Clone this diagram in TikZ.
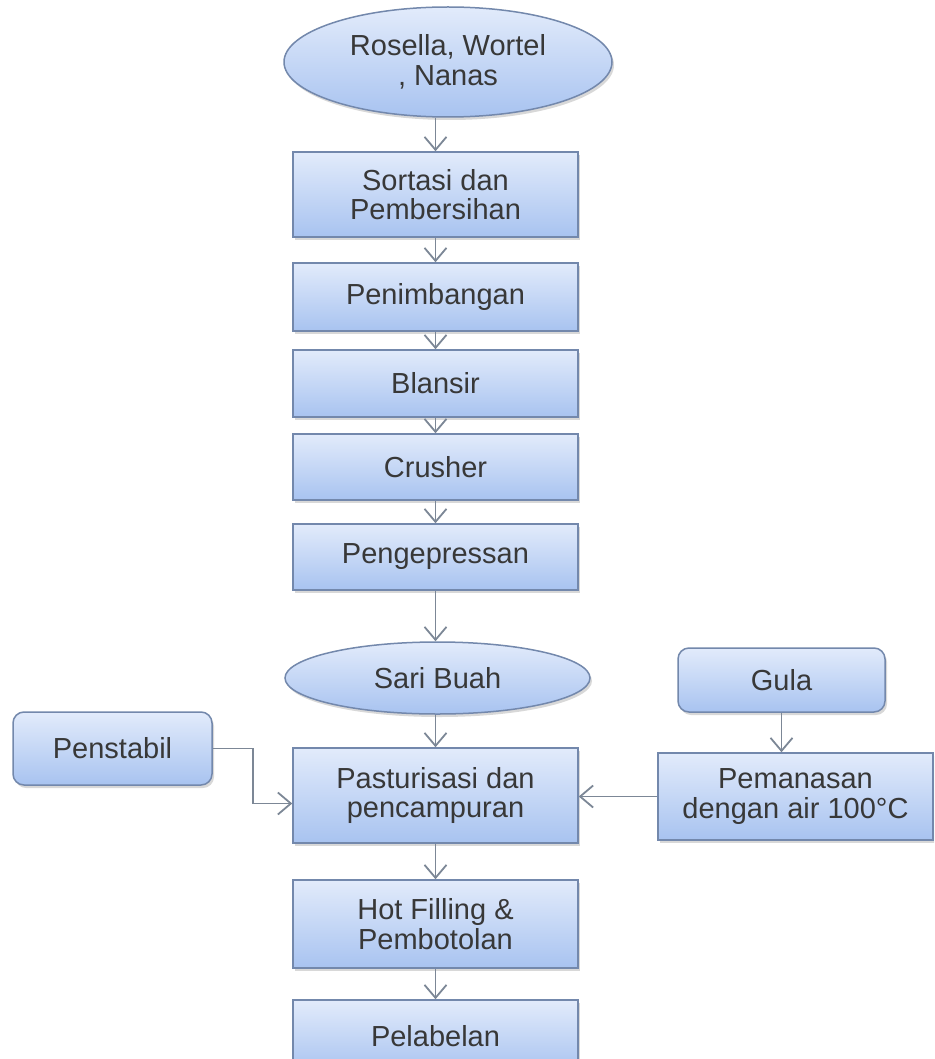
\documentclass[tikz,border=0pt]{standalone}
\usepackage{fontspec}
\setmainfont{Liberation Sans}
\usetikzlibrary{arrows.meta,shapes.geometric,shadows}
\definecolor{boxtop}{HTML}{E2EBFB}
\definecolor{boxbot}{HTML}{A8C3F0}
\definecolor{boxline}{HTML}{7388AC}
\definecolor{arrline}{HTML}{7C8796}
\definecolor{txt}{HTML}{383838}
\tikzset{
  base/.style={draw=boxline, line width=1.5pt, top color=boxtop, bottom color=boxbot,
    text=txt, align=center, inner sep=0pt,
    font=\fontsize{29}{29.5}\selectfont,
    drop shadow={shadow xshift=2pt, shadow yshift=-3pt, opacity=0.25, fill=black!60}},
  procbox/.style={base, rectangle, minimum width=285pt},
  termbox/.style={base, ellipse},
  roundbox/.style={base, rectangle, rounded corners=11pt},
  arr/.style={draw=arrline, line width=1.8pt, -{Straight Barb[length=13pt,width=22pt,line width=1.8pt]}},
}
\begin{document}
\begin{tikzpicture}[x=1pt,y=-1pt]
\useasboundingbox (0,0) rectangle (934,1059);
\clip (0,0) rectangle (934,1059);
\fill[white] (0,0) rectangle (934,1059);

\node[termbox, minimum width=328pt, minimum height=110pt] (e1) at (448,62) {Rosella, Wortel\\, Nanas};
\node[procbox, minimum height=85pt] (sort) at (435.5,194.5) {Sortasi dan\\Pembersihan};
\node[procbox, minimum height=68pt] (pen) at (435.5,297) {Penimbangan};
\node[procbox, minimum height=67pt] (blan) at (435.5,383.5) {Blansir};
\node[procbox, minimum height=66pt] (crush) at (435.5,467) {Crusher};
\node[procbox, minimum height=66pt] (peng) at (435.5,557) {Pengepressan};
\node[termbox, minimum width=305pt, minimum height=72pt] (sari) at (437.5,678) {Sari Buah};
\node[procbox, minimum height=95pt] (past) at (435.5,795.5) {Pasturisasi dan\\pencampuran};
\node[roundbox, minimum width=199pt, minimum height=73pt] (pens) at (112.5,748.5) {Penstabil};
\node[roundbox, minimum width=207pt, minimum height=64pt] (gula) at (781.5,680) {Gula};
\node[procbox, minimum width=275pt, minimum height=87pt] (pem) at (795.5,796.5) {Pemanasan\\dengan air 100°C};
\node[procbox, minimum height=88pt] (hot) at (435.5,924) {Hot Filling \&\\Pembotolan};
\node[procbox, minimum height=72pt] (pel) at (435.5,1036) {Pelabelan};

\draw[arr] (e1.south -| sort.north) -- (sort.north);
\draw[arr] (sort) -- (pen);
\draw[arr] (pen) -- (blan);
\draw[arr] (blan) -- (crush);
\draw[arr] (crush) -- (peng);
\draw[arr] (peng.south) -- (peng.south |- sari.north);
\draw[arr] (sari.south -| past.north) -- (past.north);
\draw[arr] (past) -- (hot);
\draw[arr] (hot) -- (pel);
\draw[arr] (gula.south) -- (gula.south |- pem.north);
\draw[arr] (pem.west) -- (pem.west -| past.east);
\draw[arr] (pens.east) -- ++(40,0) |- ([yshift=-8pt]past.west);
\end{tikzpicture}
\end{document}
